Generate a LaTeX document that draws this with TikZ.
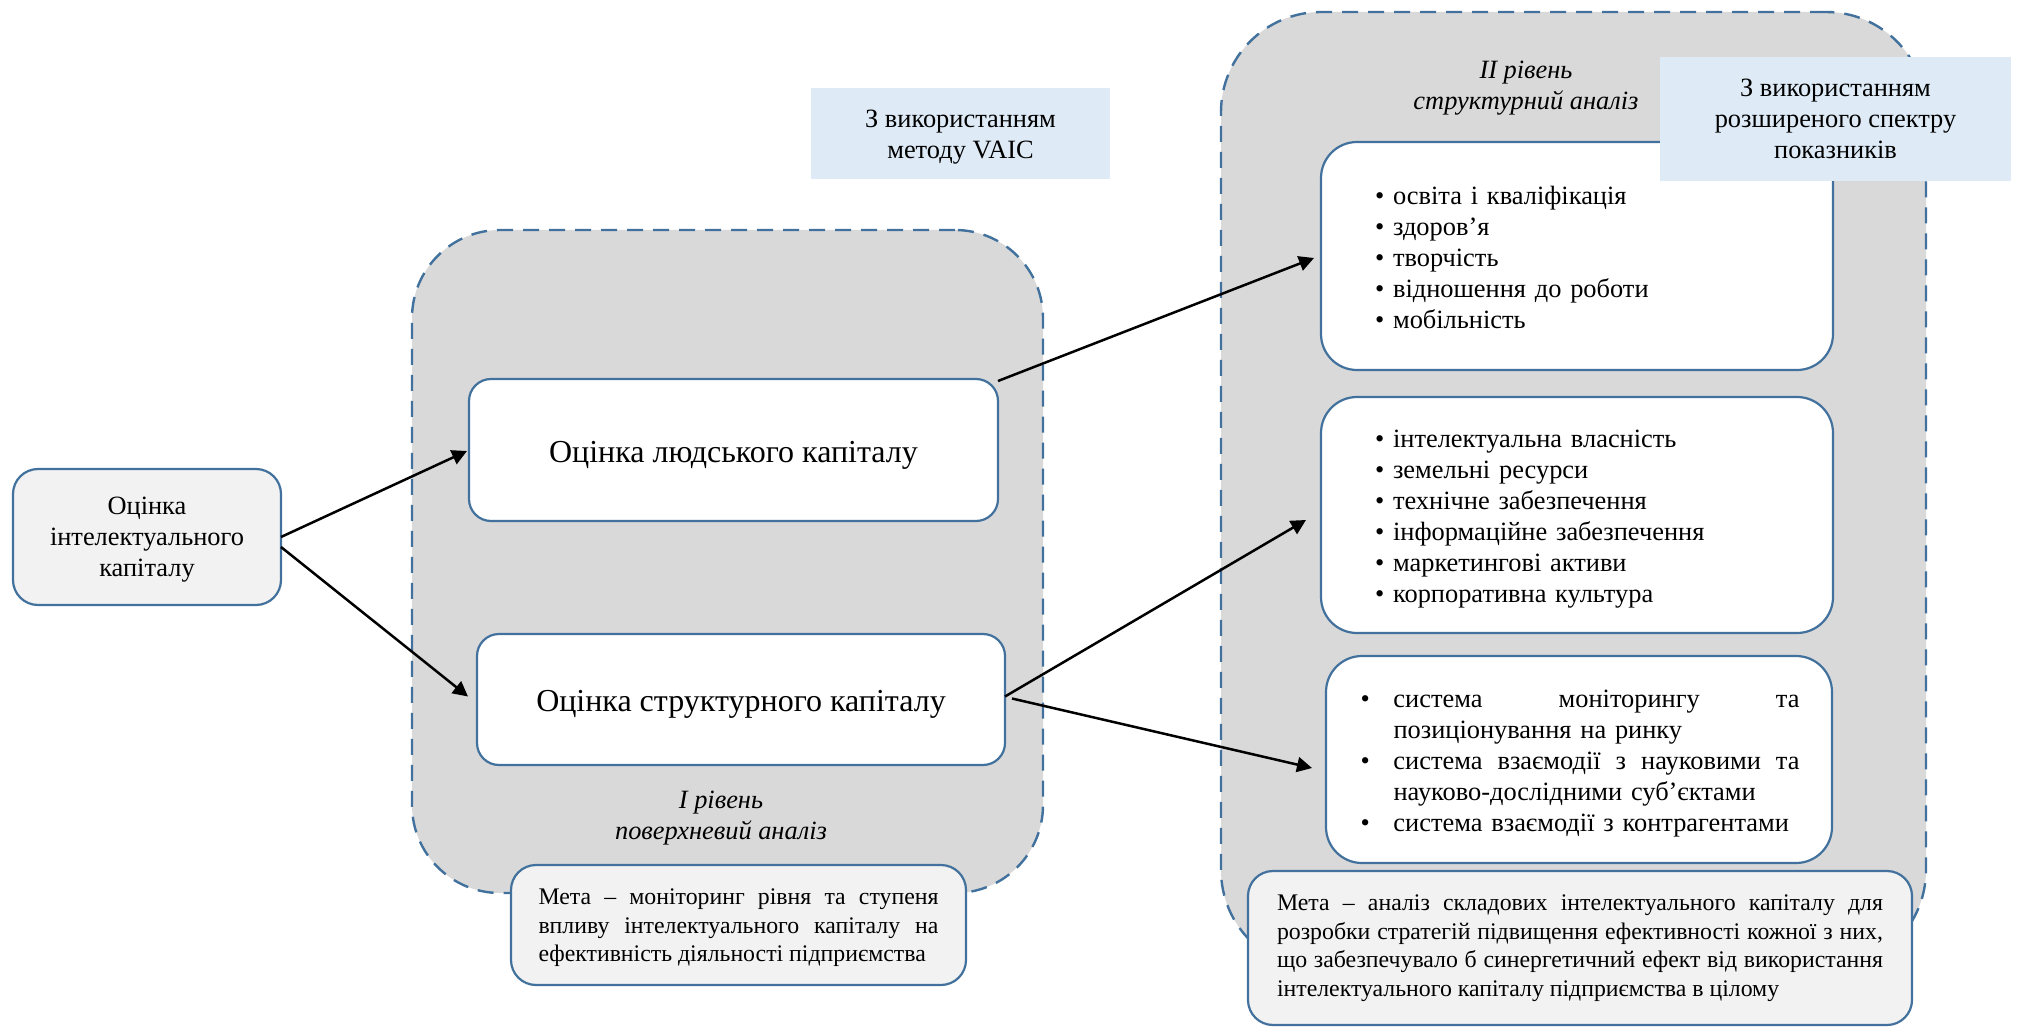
\documentclass[tikz,border=0pt]{standalone}
\usepackage{fontspec}
\setmainfont{Liberation Serif}
\usetikzlibrary{arrows.meta,calc}
\setlength\parindent{0pt}
\definecolor{bord}{HTML}{41719C}
\definecolor{greyfill}{HTML}{D9D9D9}
\definecolor{lightfill}{HTML}{F2F2F2}
\definecolor{bluefill}{HTML}{DEEBF7}
\begin{document}
\begin{tikzpicture}[x=0.5pt,y=-0.5pt,
  base/.style={inner sep=0pt, outer sep=0pt, font=\fontsize{13.2}{15.5}\selectfont},
  container/.style={base, draw=bord, dash pattern=on 8pt off 5pt, line width=1.2pt, fill=greyfill, rounded corners=#1},
  box/.style={base, draw=bord, line width=1.1pt, fill=white, rounded corners=#1},
  graybox/.style={box=#1, fill=lightfill},
  bluebox/.style={base, fill=bluefill},
  txt/.style={base, align=center},
  title/.style={base, font=\fontsize{16}{19}\selectfont},
  goal/.style={base, font=\fontsize{11.9}{14.25}\selectfont, align=justify},
  lvl/.style={base, align=center, font=\fontsize{13.2}{15.25}\selectfont\itshape},
  arr/.style={line width=1.25pt, -{Triangle[length=7.5pt,width=7.5pt]}}
]
\useasboundingbox (0,0) rectangle (2019,1027);

% containers
\node[container=44pt, minimum width=315.5pt, minimum height=331.5pt] (c1) at (727.5,561.5) {};
\node[container=50pt, minimum width=352.5pt, minimum height=479pt] (c2) at (1573.5,491) {};

% main boxes
\node[graybox=12.5pt, minimum width=134pt, minimum height=68pt] (ic) at (147,537) {};
\node[txt] (ict) at ($(ic.center)+(0,3)$) {Оцінка\\інтелектуального\\капіталу};
\node[box=11pt, minimum width=264.5pt, minimum height=71pt] (hc) at (733.5,450) {};
\node[title] (hct) at ($(hc.center)+(0,5)$) {Оцінка людського капіталу};
\node[box=11pt, minimum width=264pt, minimum height=65.5pt] (sc) at (741,699.5) {};
\node[title] (sct) at ($(sc.center)+(0,5)$) {Оцінка структурного капіталу};

\node[box=18pt, minimum width=256pt, minimum height=114pt] (A) at (1577,256) {};
\node[base, text width=202pt, align=left] (At) at ($(A.center)+(0,1)$)
  {• освіта і кваліфікація\\• здоров’я\\• творчість\\• відношення до роботи\\• мобільність};
\node[box=18pt, minimum width=256pt, minimum height=118pt] (B) at (1577,515) {};
\node[base, text width=202pt, align=left] (Bt) at ($(B.center)+(0,4)$)
  {• інтелектуальна власність\\• земельні ресурси\\• технічне забезпечення\\• інформаційне забезпечення\\• маркетингові активи\\• корпоративна культура};
\node[box=18pt, minimum width=253pt, minimum height=103.5pt] (C) at (1579,759.5) {};
\node[base, text width=219.5pt, align=left] (Ct) at ($(C.center)+(1,4)$)
  {\makebox[16.5pt][l]{•}\makebox[203pt]{система\hfill моніторингу\hfill та}\\
   \hspace*{16.5pt}позиціонування на ринку\\
   \makebox[16.5pt][l]{•}\makebox[203pt]{система\hfill взаємодії\hfill з\hfill науковими\hfill та}\\
   \hspace*{16.5pt}науково-дослідними суб’єктами\\
   \makebox[16.5pt][l]{•}система взаємодії з контрагентами};

% level labels
\node[lvl] (l1) at (721,818) {І рівень\\поверхневий аналіз};
\node[lvl] (l2) at (1526,88) {II рівень\\структурний аналіз};

% arrows
\draw[arr] (ic.east) -- ($(hc.west)+(-2,1)$);
\draw[arr] ($(ic.east)+(0,10)$) -- ($(sc.west)+(-9,-3)$);
\draw[arr] ($(hc.north east)+(0,2)$) -- ($(A.west)+(-7,2)$);
\draw[arr] ($(sc.east)+(0,-3)$) -- ($(B.west)+(-15,5)$);
\draw[arr] ($(sc.east)+(7,-1)$) -- ($(C.west)+(-14,8.5)$);

% goal boxes
\node[graybox=12.5pt, minimum width=227.5pt, minimum height=60pt] (m1) at (738.5,925) {};
\node[goal, text width=200pt] (m1t) at ($(m1.center)+(0,3)$)
  {Мета – моніторинг рівня та ступеня\linebreak впливу інтелектуального капіталу на\linebreak ефективність діяльності підприємства};
\node[graybox=12.5pt, minimum width=332pt, minimum height=77pt] (m2) at (1580,948) {};
\node[goal, text width=303pt] (m2t) at (m2.center)
  {Мета – аналіз складових інтелектуального капіталу для\linebreak розробки стратегій підвищення ефективності кожної з них,\linebreak що забезпечувало б синергетичний ефект від використання\linebreak інтелектуального капіталу підприємства в цілому};

% method boxes
\node[bluebox, minimum width=149.5pt, minimum height=45.5pt] (vaic) at (960.5,133.5) {};
\node[txt] (vaict) at ($(vaic.center)+(0,4)$) {З використанням\\методу VAIC};
\node[bluebox, minimum width=175.5pt, minimum height=62pt] (rb) at (1835.5,119) {};
\node[txt] (rbt) at (rb.center) {З використанням\\розширеного спектру\\показників};
\end{tikzpicture}
\end{document}
